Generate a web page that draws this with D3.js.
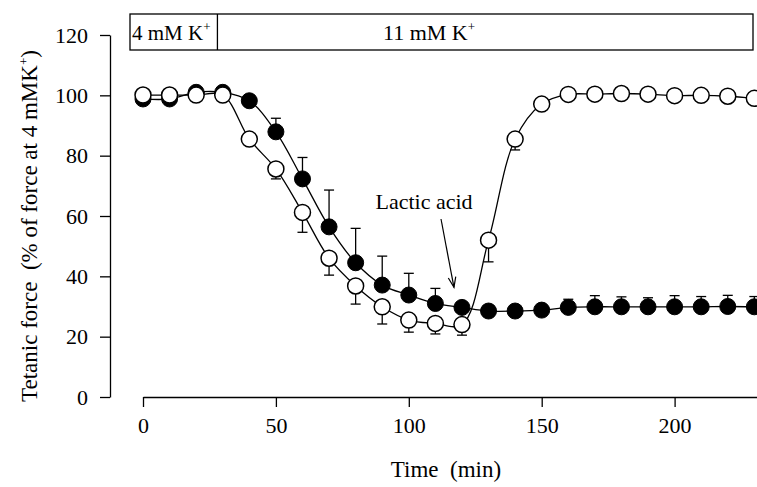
<!DOCTYPE html>
<html>
<head>
<meta charset="utf-8">
<script src="https://cdn.jsdelivr.net/npm/d3@7/dist/d3.min.js"></script>
<style>
  html, body { margin: 0; padding: 0; background: #fff; }
  svg { display: block; }
  text { font-family: "Liberation Serif", "DejaVu Serif", serif; fill: #000; }
</style>
</head>
<body>
<svg id="chart" width="757" height="487"></svg>
<script>
// ---- data ----
const times = [0,10,20,30,40,50,60,70,80,90,100,110,120,130,140,150,160,170,180,190,200,210,220,230];
// filled circles (11 mM K+ alone)
const filledValues = [98.8,98.8,101,101,98.2,87.9,72.3,56.4,44.5,37.1,33.8,31,29.7,28.5,28.5,28.8,29.7,29.9,29.9,29.9,29.9,29.9,30,29.9];
const filledErr    = [0,0,0,0,0,4.5,7.1,12.2,11.4,9.6,7.2,5,0,0,0,0,2.7,3.7,3.3,3,3.7,3.4,3.7,3.4];
// open circles (lactic acid added at 120 min)
const openValues = [100.1,100.1,100.1,100.1,85.5,75.6,61.2,46,36.8,29.9,25.5,24.4,24,52,85.5,97.1,100.3,100.4,100.6,100.4,99.9,100,99.7,99];
const openErr    = [0,0,0,0,0,3.3,6.6,5.6,6,5.7,4,3.5,3.5,7.2,3.6,0,0,0,0,0,0,0,0,0];
const xTicks = [0,50,100,150,200];
const yTicks = [0,20,40,60,80,100,120];
const switchTime = 28;
const barLabels = ["4 mM K", "11 mM K"];
const annotation = "Lactic acid";
const lacticTime = 120;

// ---- scales ----
const svg = d3.select("#chart");
const x = d3.scaleLinear().domain([0, 231]).range([143, 757]);
const y = d3.scaleLinear().domain([0, 120]).range([397, 35]);

// ---- axes ----
const yAxis = svg.append("g").attr("transform", "translate(110,0)")
  .call(d3.axisLeft(y).tickValues(yTicks).tickSize(10).tickSizeOuter(0).tickPadding(12));
const xAxis = svg.append("g").attr("transform", "translate(0,397)")
  .call(d3.axisBottom(x).tickValues(xTicks).tickSize(10).tickSizeOuter(0).tickPadding(10));
[yAxis, xAxis].forEach(g => {
  g.selectAll("path").attr("stroke", "#000").attr("stroke-width", 1.3);
  g.selectAll("line").attr("stroke", "#000").attr("stroke-width", 1.3);
  g.selectAll("text").style("font-family", "'Liberation Serif', serif").style("font-size", "22px").attr("fill", "#000");
});

// axis titles
svg.append("text")
  .attr("transform", "translate(37,226) rotate(-90)")
  .attr("text-anchor", "middle")
  .style("font-size", "23px")
  .html('Tetanic force\u00a0\u00a0(% of force at 4 mMK<tspan dy="-9" font-size="13">+</tspan><tspan dy="9">)</tspan>');
svg.append("text")
  .attr("x", 446).attr("y", 477)
  .attr("text-anchor", "middle")
  .style("font-size", "23px")
  .text("Time\u00a0\u00a0(min)");

// ---- top condition bar ----
const barTop = 14, barBot = 50;
svg.append("rect").attr("x", 130).attr("y", barTop).attr("width", 753 - 130).attr("height", barBot - barTop)
  .attr("fill", "none").attr("stroke", "#000").attr("stroke-width", 1.3);
svg.append("line").attr("x1", x(switchTime)).attr("x2", x(switchTime)).attr("y1", barTop).attr("y2", barBot)
  .attr("stroke", "#000").attr("stroke-width", 1.3);
svg.append("text").attr("x", 132).attr("y", 40).style("font-size", "21px")
  .html(barLabels[0] + '<tspan dy="-9" font-size="13">+</tspan>');
svg.append("text").attr("x", 383).attr("y", 40).style("font-size", "22px")
  .html(barLabels[1] + '<tspan dy="-9" font-size="13">+</tspan>');

// ---- series ----
const filled = times.map((t, i) => ({t, v: filledValues[i], e: filledErr[i]}));
const open = times.map((t, i) => ({t, v: openValues[i], e: openErr[i]}));

const line = d3.line().x(d => x(d.t)).y(d => y(d.v)).curve(d3.curveCatmullRom.alpha(0.5));

// error bars: filled upward, open downward
function errBars(data, dir) {
  const g = svg.append("g").attr("stroke", "#000").attr("stroke-width", 1.3);
  data.filter(d => d.e > 0).forEach(d => {
    const y0 = y(d.v), y1 = y(d.v + dir * d.e);
    g.append("line").attr("x1", x(d.t)).attr("x2", x(d.t)).attr("y1", y0).attr("y2", y1);
    g.append("line").attr("x1", x(d.t) - 5).attr("x2", x(d.t) + 5).attr("y1", y1).attr("y2", y1);
  });
}
errBars(filled, 1);
errBars(open, -1);

svg.append("path").datum(filled).attr("d", line).attr("fill", "none").attr("stroke", "#000").attr("stroke-width", 1.3);
svg.append("path").datum(open).attr("d", line).attr("fill", "none").attr("stroke", "#000").attr("stroke-width", 1.3);

svg.append("g").selectAll("circle").data(filled).join("circle")
  .attr("cx", d => x(d.t)).attr("cy", d => y(d.v)).attr("r", 8)
  .attr("fill", "#000").attr("stroke", "#000").attr("stroke-width", 1);
svg.append("g").selectAll("circle").data(open).join("circle")
  .attr("cx", d => x(d.t)).attr("cy", d => y(d.v)).attr("r", 8)
  .attr("fill", "#fff").attr("stroke", "#000").attr("stroke-width", 1.5);

// ---- annotation ----
svg.append("text").attr("x", 424).attr("y", 209).attr("text-anchor", "middle")
  .style("font-size", "22px").text(annotation);
const ax0 = 441, ay0 = 219, ax1 = x(lacticTime) - 8, ay1 = y(filledValues[12]) - 20;
svg.append("line").attr("x1", ax0).attr("y1", ay0).attr("x2", ax1).attr("y2", ay1)
  .attr("stroke", "#000").attr("stroke-width", 1.2);
const ang = Math.atan2(ay1 - ay0, ax1 - ax0);
const hl = 11, hw = 0.35;
svg.append("path")
  .attr("d", `M${ax1 - hl * Math.cos(ang - hw)},${ay1 - hl * Math.sin(ang - hw)} L${ax1},${ay1} L${ax1 - hl * Math.cos(ang + hw)},${ay1 - hl * Math.sin(ang + hw)}`)
  .attr("fill", "none").attr("stroke", "#000").attr("stroke-width", 1.2);
</script>
</body>
</html>
